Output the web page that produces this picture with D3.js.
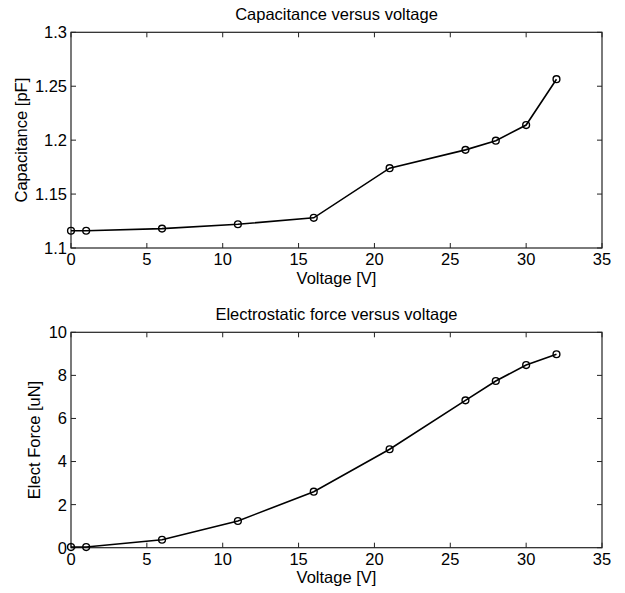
<!DOCTYPE html>
<html>
<head>
<meta charset="utf-8">
<script src="https://cdn.jsdelivr.net/npm/d3@7"></script>
<style>
body { margin: 0; background: #fff; }
text { font-family: "Liberation Sans", Arial, sans-serif; font-size: 16.5px; fill: #000; }
</style>
</head>
<body>
<div id="chart"></div>
<script>
// values
var voltage = [0, 1, 6, 11, 16, 21, 26, 28, 30, 32];
var capacitance = [1.116, 1.116, 1.118, 1.122, 1.128, 1.174, 1.191, 1.1995, 1.214, 1.2565];
var force = [0.03, 0.03, 0.37, 1.24, 2.6, 4.57, 6.84, 7.74, 8.48, 8.98];

var xTicks = [0, 5, 10, 15, 20, 25, 30, 35];
var capTicks = [1.1, 1.15, 1.2, 1.25, 1.3];
var forceTicks = [0, 2, 4, 6, 8, 10];

var width = 625,
    height = 593;

var svg = d3.select("#chart")
    .append("svg")
    .attr("width", width)
    .attr("height", height);

var left = 71, right = 602;

function drawPanel(top, bottom, yDomain, yTicks, yFmt, values, title, ylabel, ylabelX) {
    var x = d3.scaleLinear().domain([0, 35]).range([left, right]);
    var y = d3.scaleLinear().domain(yDomain).range([bottom, top]);
    var g = svg.append("g");

    // box
    g.append("rect")
        .attr("x", left).attr("y", top)
        .attr("width", right - left).attr("height", bottom - top)
        .attr("fill", "none").attr("stroke", "#222").attr("stroke-width", 1.2);

    // ticks pointing inward on all four sides
    xTicks.forEach(function (t) {
        g.append("line").attr("x1", x(t)).attr("x2", x(t)).attr("y1", bottom).attr("y2", bottom - 5)
            .attr("stroke", "#222");
        g.append("line").attr("x1", x(t)).attr("x2", x(t)).attr("y1", top).attr("y2", top + 5)
            .attr("stroke", "#222");
        g.append("text").attr("x", x(t)).attr("y", bottom + 17)
            .attr("text-anchor", "middle").text(t);
    });
    yTicks.forEach(function (t) {
        g.append("line").attr("x1", left).attr("x2", left + 5).attr("y1", y(t)).attr("y2", y(t))
            .attr("stroke", "#222");
        g.append("line").attr("x1", right).attr("x2", right - 5).attr("y1", y(t)).attr("y2", y(t))
            .attr("stroke", "#222");
        g.append("text").attr("x", left - 4).attr("y", y(t)).attr("dy", "0.36em")
            .attr("text-anchor", "end").text(yFmt(t));
    });

    var pts = voltage.map(function (v, i) { return [v, values[i]]; });

    var line = d3.line()
        .x(function (d) { return x(d[0]); })
        .y(function (d) { return y(d[1]); });

    g.append("path")
        .datum(pts)
        .attr("d", line)
        .attr("fill", "none")
        .attr("stroke", "#000")
        .attr("stroke-width", 1.6);

    g.selectAll("circle")
        .data(pts)
        .enter().append("circle")
        .attr("cx", function (d) { return x(d[0]); })
        .attr("cy", function (d) { return y(d[1]); })
        .attr("r", 3.4)
        .attr("fill", "none")
        .attr("stroke", "#000")
        .attr("stroke-width", 1.4);

    g.append("text")
        .attr("x", (left + right) / 2).attr("y", top - 12.5)
        .attr("text-anchor", "middle").text(title);

    g.append("text")
        .attr("x", (left + right) / 2).attr("y", bottom + 35.5)
        .attr("text-anchor", "middle").text("Voltage [V]");

    g.append("text")
        .attr("transform", "translate(" + ylabelX + "," + (top + bottom) / 2 + ") rotate(-90)")
        .attr("text-anchor", "middle").text(ylabel);
}

drawPanel(32.3, 248, [1.1, 1.3], capTicks, function (d) { return String(+d.toFixed(2)); },
    capacitance, "Capacitance versus voltage", "Capacitance [pF]", 27);
drawPanel(332.3, 547.7, [0, 10], forceTicks, function (d) { return String(d); },
    force, "Electrostatic force versus voltage", "Elect Force [uN]", 40);
</script>
</body>
</html>
